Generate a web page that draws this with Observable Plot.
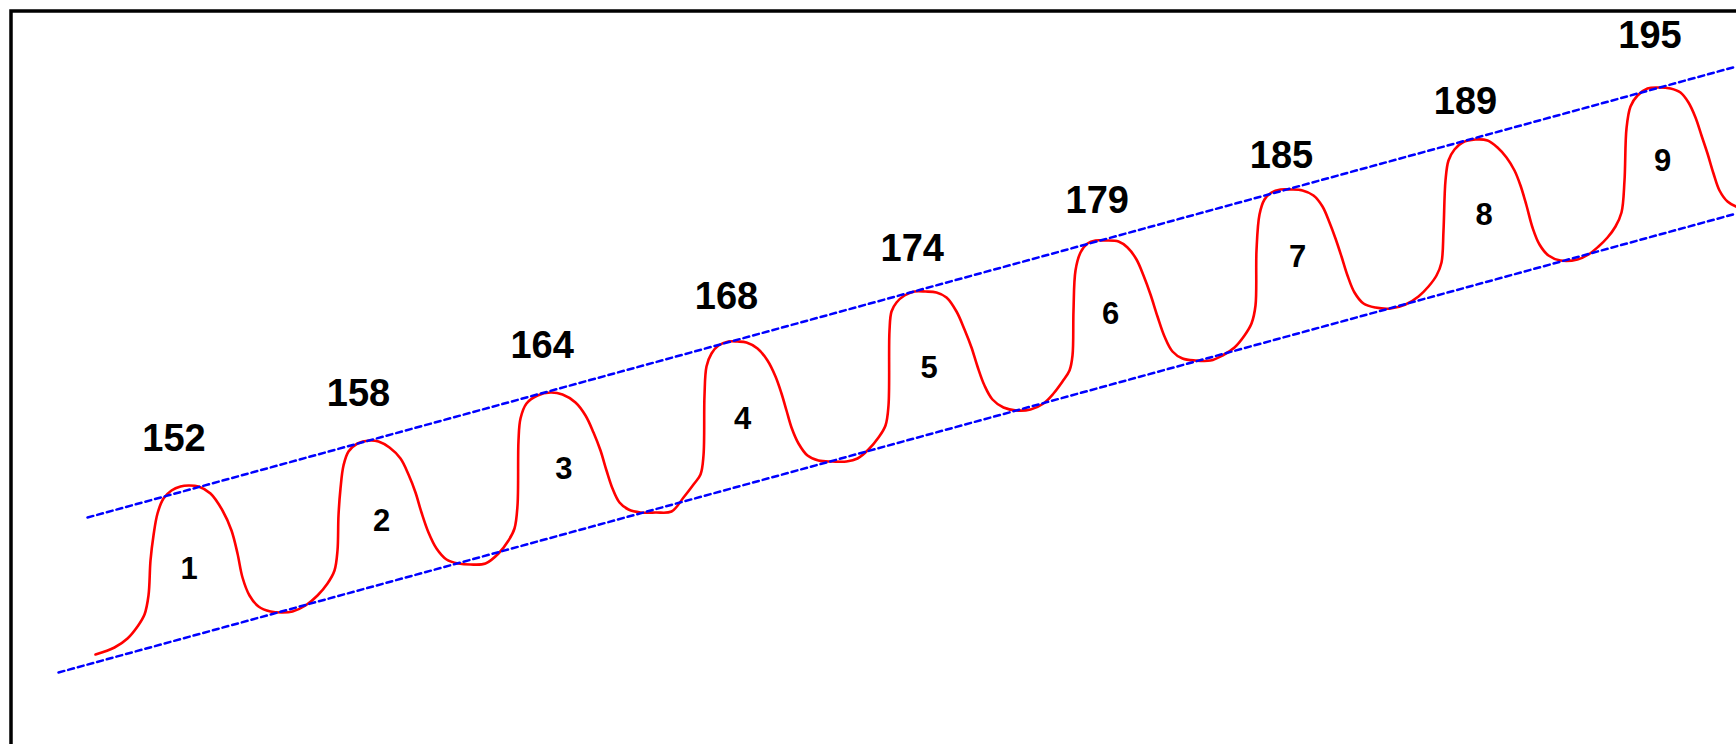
<!DOCTYPE html>
<html>
<head>
<meta charset="utf-8">
<script src="https://cdn.jsdelivr.net/npm/d3@7"></script>
<script src="https://cdn.jsdelivr.net/npm/@observablehq/plot@0.6"></script>
<style>
  html, body { margin: 0; padding: 0; background: #fff; }
  #chart { width: 1736px; height: 744px; overflow: hidden; background: #fff; }
  #chart svg { display: block; overflow: hidden; }
</style>
</head>
<body>
<div id="chart"></div>
<script>
// Wave curve: [x, y] in picture units (y grows downward)
const waveCurve = [
  // wave 1
  [95,654],[114,647],[127,638],[137,626],[144,614],[148,595],[150,560],[153,535],[157,513],[163,498],[171,490],[180,486],[188,485],[198,486],
  [210,493],[222,510],[231,530],[237,553],[242,577],[249,595],[258,606],[270,611],[282,612],[292,611],
  // wave 2
  [305,605],[317,595],[327,583],[334,570],[337,550],[338,515],[340,488],[343,465],[348,451],[357,443],[369,440],[378,441],
  [389,447],[400,458],[408,474],[415,492],[421,512],[428,532],[436,548],[446,559],[458,563],[470,564],[485,563],
  // wave 3
  [498,553],[508,540],[514,528],[517,505],[518,440],[520,418],[526,403],[537,395],[550,392],[562,394],
  [575,402],[585,415],[593,432],[600,450],[606,470],[612,488],[619,502],[628,509],[640,512],[655,512],[671,511],
  // wave 4
  [683,497],[693,484],[700,474],[703,455],[704,395],[706,366],[711,353],[718,345],[728,341],[737,341],[746,342],
  [757,348],[767,360],[775,376],[781,393],[786,410],[791,427],[798,443],[807,455],[818,460],[832,461],[846,461],
  // wave 5
  [857,458],[868,449],[878,437],[885,425],[888,405],[889,330],[891,311],[896,302],[904,295],[914,291],[925,291],[936,292],
  [946,297],[956,311],[964,329],[971,347],[977,366],[984,385],[992,399],[1003,407],[1016,410],[1030,409],
  // wave 6
  [1043,403],[1053,393],[1062,381],[1069,370],[1072,355],[1073,310],[1075,270],[1080,252],[1087,243],[1095,240],[1104,240],[1118,241],
  [1127,247],[1136,259],[1143,275],[1150,294],[1157,316],[1164,336],[1172,351],[1182,358],[1195,360],[1210,360],
  // wave 7
  [1222,355],[1234,347],[1244,335],[1251,323],[1255,305],[1256,250],[1259,214],[1264,199],[1271,192],[1280,189],[1290,189],[1302,190],
  [1313,195],[1322,206],[1329,222],[1335,238],[1341,256],[1347,275],[1354,292],[1363,303],[1375,307],[1390,308],
  // wave 8
  [1405,304],[1418,296],[1428,286],[1436,275],[1441,262],[1443,230],[1445,180],[1448,160],[1454,149],[1462,142],[1475,139],[1487,140],
  [1497,147],[1506,157],[1514,170],[1520,185],[1526,205],[1532,227],[1539,244],[1548,255],[1560,260],[1577,259],
  // wave 9
  [1588,254],[1598,246],[1607,237],[1615,226],[1621,212],[1624,180],[1626,128],[1630,106],[1637,95],[1647,88],[1658,87],[1670,88],
  [1680,92],[1688,102],[1695,117],[1701,135],[1707,153],[1713,173],[1719,190],[1727,201],[1740,208]
];

// Channel (trend) lines: end points
const upperLineX = [87, 1736];
const upperLineY = [517, 66];
const lowerLineX = [58, 1736];
const lowerLineY = [672, 213];

// Peak value labels
const peakLabels = ["152", "158", "164", "168", "174", "179", "185", "189", "195"];
const peakLabelX = [173.5, 358, 541.6, 726, 911.7, 1096.7, 1281, 1465, 1649.5];
const peakLabelY = [450, 405, 357, 308, 260, 212, 167, 113, 47];

// Wave numbers
const waveNumbers = ["1", "2", "3", "4", "5", "6", "7", "8", "9"];
const waveNumberX = [188.6, 381, 563.4, 742, 928.6, 1110, 1297, 1483.5, 1662];
const waveNumberY = [578, 530, 478, 428, 377, 323, 266, 224, 170];

const W = 1736, H = 744;
const curveData = waveCurve.map(([x, y]) => ({x, y}));
const upperData = upperLineX.map((x, i) => ({x, y: upperLineY[i]}));
const lowerData = lowerLineX.map((x, i) => ({x, y: lowerLineY[i]}));
const peakData = peakLabels.map((t, i) => ({t, x: peakLabelX[i], y: peakLabelY[i]}));
const numData = waveNumbers.map((t, i) => ({t, x: waveNumberX[i], y: waveNumberY[i]}));

const font = "'Liberation Sans', Arial, Helvetica, sans-serif";

const chart = Plot.plot({
  width: W,
  height: H,
  margin: 0,
  style: {background: "#fff", fontFamily: font},
  x: {domain: [0, W], range: [0, W], axis: null},
  y: {domain: [0, H], range: [0, H], axis: null},
  marks: [
    Plot.frame({stroke: "#000", strokeWidth: 3.5, insetLeft: 10.5, insetTop: 10.5, insetRight: -30, insetBottom: -30}),
    Plot.line(curveData, {x: "x", y: "y", stroke: "#ff0000", strokeWidth: 2.6, curve: "catmull-rom"}),
    Plot.line(upperData, {x: "x", y: "y", stroke: "#0000ff", strokeWidth: 2.5, strokeDasharray: "6,4"}),
    Plot.line(lowerData, {x: "x", y: "y", stroke: "#0000ff", strokeWidth: 2.5, strokeDasharray: "6,4"}),
    Plot.text(peakData, {x: "x", y: "y", text: "t", lineAnchor: "bottom", textAnchor: "middle", fontSize: 38, fontWeight: "bold", fill: "#000", fontFamily: font}),
    Plot.text(numData, {x: "x", y: "y", text: "t", lineAnchor: "bottom", textAnchor: "middle", fontSize: 31, fontWeight: "bold", fill: "#000", fontFamily: font})
  ]
});
document.getElementById("chart").appendChild(chart);
</script>
</body>
</html>
